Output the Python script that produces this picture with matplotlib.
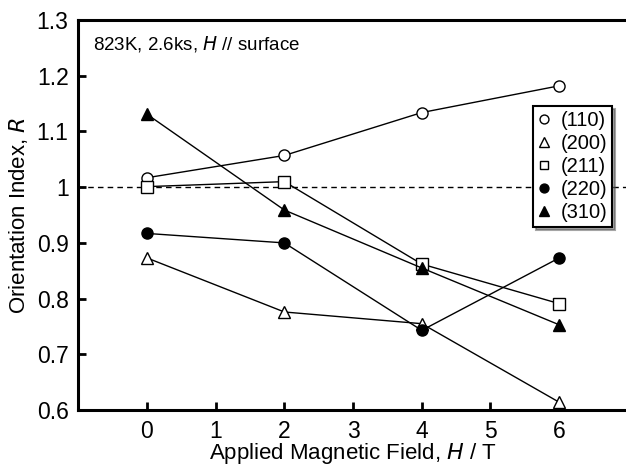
import matplotlib
matplotlib.use("Agg")
import matplotlib.pyplot as plt

plt.rcParams['font.family'] = ['Liberation Sans', 'DejaVu Sans']

# pole magnetyczne [T]
field = [0, 2, 4, 6]

# wskaźnik orientacji R dla poszczególnych płaszczyzn
r_110 = [1.017, 1.057, 1.134, 1.182]
r_200 = [0.873, 0.776, 0.755, 0.614]
r_211 = [1.001, 1.010, 0.862, 0.791]
r_220 = [0.917, 0.900, 0.743, 0.873]
r_310 = [1.131, 0.959, 0.855, 0.753]

labels = ["(110)", "(200)", "(211)", "(220)", "(310)"]
x_ticks = [0, 1, 2, 3, 4, 5, 6]
y_ticks = [0.6, 0.7, 0.8, 0.9, 1.0, 1.1, 1.2, 1.3]
y_tick_labels = ["0.6", "0.7", "0.8", "0.9", "1", "1.1", "1.2", "1.3"]

fig = plt.figure(figsize=(6.26, 4.67), dpi=100)
ax = fig.add_axes([0.125, 0.122, 0.878, 0.835])

series = [
    (r_110, "o", "white", 8),
    (r_200, "^", "white", 9),
    (r_211, "s", "white", 8),
    (r_220, "o", "black", 8),
    (r_310, "^", "black", 9),
]
for name, (ys, m, fc, ms) in zip(labels, series):
    ax.plot(field, ys, marker=m, color="black", mfc=fc, mec="black",
            ms=ms, mew=1.0, lw=1.0, label=name, clip_on=False, zorder=3)

ax.axhline(1.0, color="black", lw=1.0, ls=(0, (4, 3)), zorder=1)

ax.set_xlim(-1, 7)
ax.set_ylim(0.6, 1.3)
ax.set_xticks(x_ticks)
ax.set_yticks(y_ticks)
ax.set_yticklabels(y_tick_labels)
ax.tick_params(direction="in", length=6, width=2, labelsize=16.5, pad=7,
               top=False, right=False)
for s in ax.spines.values():
    s.set_linewidth(2.2)

ax.set_xlabel("Applied Magnetic Field, $\\it{H}$ / T", fontsize=16, labelpad=-1)
ax.set_ylabel("Orientation Index, $\\it{R}$", fontsize=16, labelpad=5)

ax.text(0.027, 0.965, "823K, 2.6ks, $\\it{H}$ // surface", transform=ax.transAxes,
        fontsize=13.5, ha="left", va="top")

leg = ax.legend(loc="upper left", bbox_to_anchor=(0.828, 0.78), fontsize=14.5,
                frameon=True, fancybox=False, shadow=True, handlelength=0.6,
                handletextpad=0.5, borderpad=0.25, labelspacing=0.2,
                markerscale=0.8, borderaxespad=0)
leg.get_frame().set_edgecolor("black")
leg.get_frame().set_linewidth(1.5)
for h in leg.get_lines():
    h.set_linestyle("none")

fig.savefig("out.png", dpi=100)
